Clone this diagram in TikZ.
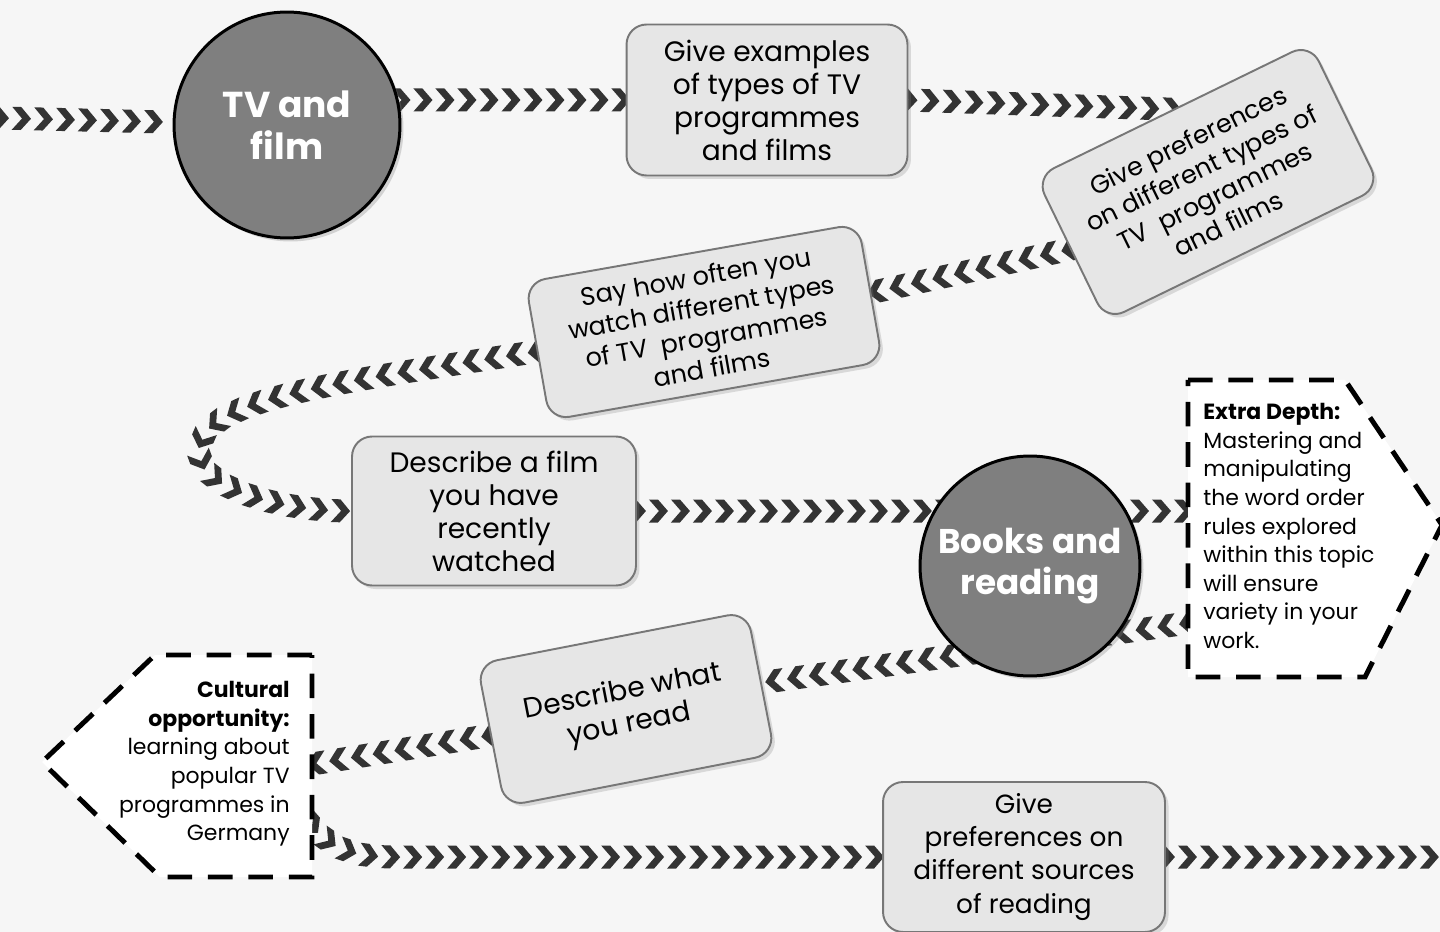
\documentclass[tikz,border=0pt]{standalone}
\usepackage{fontspec}
\setmainfont{Poppins}
\usepackage{xcolor}
\usetikzlibrary{positioning,calc,shadows,decorations.markings}

\definecolor{paper}{HTML}{F6F6F6}
\definecolor{chevron}{HTML}{333333}
\definecolor{topicgray}{HTML}{7F7F7F}
\definecolor{boxgray}{HTML}{E6E6E6}
\definecolor{boxline}{HTML}{777777}

\pgfdeclarelayer{paper}
\pgfdeclarelayer{trail}
\pgfsetlayers{paper,trail,main}

\tikzset{
	topic/.style={circle,draw=black,line width=1.7pt,fill=topicgray,text=white,align=center,inner sep=0pt,
		drop shadow={shadow xshift=2pt,shadow yshift=-2pt,opacity=.3}},
	task/.style={rectangle,rounded corners=0.4cm,draw=boxline,line width=1.1pt,fill=boxgray,align=center,inner sep=0pt,
		font=\fontsize{16}{18.8}\selectfont,drop shadow={shadow xshift=2pt,shadow yshift=-2pt,opacity=.25}},
	dashbox/.style={draw=black,line width=2.8pt,dash pattern=on 14pt off 9pt,fill=white},
	note/.style={inner xsep=0.3cm,inner ysep=0pt,font=\fontsize{12.5}{16.3}\selectfont},
	trail/.style={decorate,decoration={markings,mark=between positions 0 and 1 step 0.44cm with
		{\fill[chevron] (-10,-11.5) -- (-1,-11.5) -- (9,0) -- (-1,11.5) -- (-10,11.5) -- (0,0) -- cycle;}}}
}

\begin{document}
\begin{tikzpicture}[x=0.02cm,y=-0.02cm]
	\useasboundingbox (0,0) rectangle (1440,932);
	\begin{pgfonlayer}{paper}
		\fill[paper] (0,0) rectangle (1440,932);
	\end{pgfonlayer}

	% topics
	\node[topic,minimum size=4.52cm,font=\fontsize{20.5}{24}\selectfont\bfseries] (tv) at (287,125) {TV and\\film};
	\node[topic,minimum size=4.4cm,font=\fontsize{19.5}{23}\selectfont\bfseries] (books) at (1030,566) {Books and\\reading};

	% tasks
	\node[task,minimum width=5.62cm,minimum height=3.02cm] (ex) at (767,100) {Give examples\\of types of TV\\programmes\\and films};
	\node[task,minimum width=6.1cm,minimum height=3.2cm,rotate=26,font=\fontsize{14.5}{17.5}\selectfont] (prefs) at (1208,182)
		{Give preferences\\on different types of\\TV~ programmes\\and films};
	\node[task,minimum width=6.76cm,minimum height=2.8cm,rotate=10,font=\fontsize{14.5}{17.5}\selectfont] (say) at (704,322)
		{Say how often you\\watch different types\\of TV~ programmes\\and films};
	\node[task,minimum width=5.68cm,minimum height=2.98cm] (film) at (494,511) {Describe a film\\you have\\recently\\watched};
	\node[task,minimum width=5.5cm,minimum height=2.9cm,rotate=11] (read) at (626,709) {Describe what\\you read};
	\node[task,minimum width=5.64cm,minimum height=3cm,font=\fontsize{15}{18.8}\selectfont] (src) at (1024,857)
		{Give\\preferences on\\different sources\\of reading};

	% side notes
	\draw[dashbox] (1188,380) -- (1345,380) -- (1442,525) -- (1365,677) -- (1188,677) -- cycle;
	\node[note,anchor=west,align=left] (extra) at (1188,526)
		{\textbf{Extra Depth:}\\Mastering and\\manipulating\\the word order\\rules explored\\within this topic\\will ensure\\variety in your\\work.};
	\draw[dashbox] (312,655) -- (155,655) -- (42,762) -- (160,877) -- (312,877) -- cycle;
	\node[note,anchor=east,align=right,inner xsep=0.44cm] (cult) at (312,764)
		{\textbf{Cultural}\\\textbf{opportunity:}\\learning about\\popular TV\\programmes in\\Germany};

	\coordinate (entry) at (0,118);
	\coordinate (exit) at (1440,857);

	% chevron trails
	\begin{pgfonlayer}{trail}
		\path[trail] (entry) -- (tv);
		\path[trail] (ex.west -| tv.east) -- (ex.west);
		\path[trail] (ex.east) -- (prefs.north);
		\path[trail] (prefs.west) -- (say.east);
		\path[trail] (say.west) .. controls (320,385) and (195,400) .. (200,455)
			.. controls (204,492) and (290,511) .. (film.west);
		\path[trail] (film.east) -- (film.east -| books);
		\path[trail] (film.east -| books) -- (film.east -| extra.west);
		\path[trail] ($(extra.west)+(0,97)$) -- (read.east);
		\path[trail] (read.west) -- (cult.east);
		\path[trail] ($(cult.east)+(0,62)$) .. controls (335,852) and (360,857) .. (400,857) -- (src.west);
		\path[trail] (src.east) -- (exit);
	\end{pgfonlayer}
\end{tikzpicture}
\end{document}
